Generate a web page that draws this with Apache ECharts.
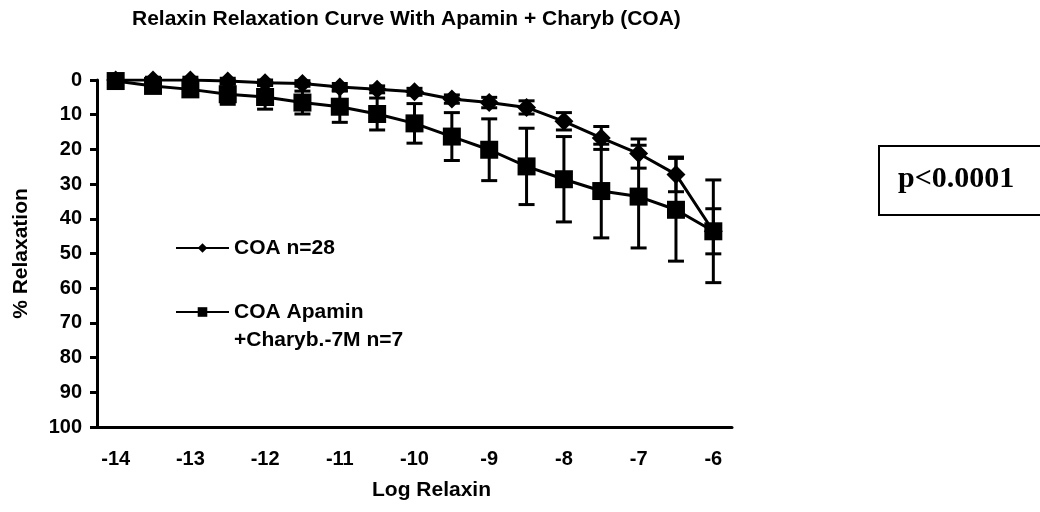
<!DOCTYPE html>
<html>
<head>
<meta charset="utf-8">
<script src="https://cdn.jsdelivr.net/npm/echarts@6/dist/echarts.min.js"></script>
<style>
html,body{margin:0;padding:0;background:#fff;}
#chart{width:1040px;height:512px;}
</style>
</head>
<body>
<div id="chart"></div>
<script>
// Data
var logRelaxin = ['-14','-13.5','-13','-12.5','-12','-11.5','-11','-10.5','-10','-9.5','-9','-8.5','-8','-7.5','-7','-6.5','-6'];
var coaMean = [0, 0, 0, 0.3, 0.8, 1, 2, 2.7, 3.4, 5.5, 6.5, 7.9, 11.9, 16.7, 21.2, 27.2, 43.6];
var coaSem = [0.8, 0.8, 0.8, 0.8, 0.8, 0.8, 1, 1, 1, 1.2, 1.5, 1.9, 2.5, 3.3, 4.2, 5, 6.5];
var apaMean = [0.3, 1.7, 2.7, 4.1, 4.9, 6.5, 7.7, 9.8, 12.5, 16.3, 20.1, 24.9, 28.6, 32, 33.6, 37.4, 43.6];
var apaSem = [0.8, 1, 1.5, 2.9, 3.5, 3.3, 4.5, 4.6, 5.7, 6.9, 8.9, 11, 12.3, 13.5, 14.8, 14.8, 14.8];
var yTicks = [0, 100, 10];
var seriesNames = ['COA n=28', 'COA Apamin +Charyb.-7M n=7'];

function errData(mean, sem) {
  return mean.map(function (m, i) { return [i, m - sem[i], m + sem[i]]; });
}
function errRender(params, api) {
  var i = api.value(0);
  var lo = api.coord([i, api.value(1)]);
  var hi = api.coord([i, api.value(2)]);
  var cw = 8;
  var st = { stroke: '#000', lineWidth: 3 };
  return {
    type: 'group',
    children: [
      { type: 'line', shape: { x1: lo[0], y1: lo[1], x2: hi[0], y2: hi[1] }, style: st },
      { type: 'line', shape: { x1: lo[0] - cw, y1: lo[1], x2: lo[0] + cw, y2: lo[1] }, style: st },
      { type: 'line', shape: { x1: hi[0] - cw, y1: hi[1], x2: hi[0] + cw, y2: hi[1] }, style: st }
    ]
  };
}

var font = 'Liberation Sans, Arial, sans-serif';
var chart = echarts.init(document.getElementById('chart'), null, { renderer: 'canvas' });
chart.setOption({
  animation: false,
  backgroundColor: '#fff',
  title: {
    text: 'Relaxin Relaxation Curve With Apamin + Charyb (COA)',
    left: 132, top: 9, padding: 0,
    textStyle: { fontFamily: font, fontWeight: 'bold', fontSize: 21, color: '#000' }
  },
  legend: {
    orient: 'vertical', left: 175, top: 234, padding: 0,
    itemWidth: 53, itemHeight: 12, itemGap: 8,
    data: seriesNames,
    formatter: function (name) {
      if (name === seriesNames[1]) return '\nCOA Apamin\n+Charyb.-7M n=7';
      return name;
    },
    textStyle: { fontFamily: font, fontWeight: 'bold', fontSize: 21, color: '#000', lineHeight: 28 }
  },
  grid: { left: 97, right: 308, top: 80, bottom: 85, containLabel: false },
  xAxis: {
    type: 'category', data: logRelaxin, boundaryGap: true, position: 'bottom',
    name: 'Log Relaxin', nameLocation: 'middle', nameGap: 53,
    nameTextStyle: { fontFamily: font, fontWeight: 'bold', fontSize: 21, color: '#000', padding: [0, 0, 0, 34] },
    axisLine: { onZero: false, lineStyle: { color: '#000', width: 3 } },
    axisTick: { inside: true, length: 7, interval: 0, lineStyle: { color: '#000', width: 3 } },
    axisLabel: { interval: 1, margin: 22, fontFamily: font, fontWeight: 'bold', fontSize: 20, color: '#000' },
    splitLine: { show: false }
  },
  yAxis: {
    type: 'value', inverse: true, min: yTicks[0], max: yTicks[1], interval: yTicks[2],
    name: '% Relaxation', nameLocation: 'middle', nameGap: 65, nameRotate: 90,
    nameTextStyle: { fontFamily: font, fontWeight: 'bold', fontSize: 21, color: '#000' },
    axisLine: { show: true, onZero: false, lineStyle: { color: '#000', width: 3 } },
    axisTick: { show: true, length: 7, lineStyle: { color: '#000', width: 3 } },
    axisLabel: { margin: 15, fontFamily: font, fontWeight: 'bold', fontSize: 20, color: '#000' },
    splitLine: { show: false }
  },
  series: [
    {
      type: 'custom', name: 'errCOA', renderItem: errRender, data: errData(coaMean, coaSem),
      encode: { x: 0, y: [1, 2] }, z: 2, silent: true
    },
    {
      type: 'custom', name: 'errApa', renderItem: errRender, data: errData(apaMean, apaSem),
      encode: { x: 0, y: [1, 2] }, z: 2, silent: true
    },
    {
      type: 'line', name: seriesNames[0], data: coaMean, symbol: 'diamond', symbolSize: 19,
      lineStyle: { color: '#000', width: 3 }, itemStyle: { color: '#000' }, z: 3
    },
    {
      type: 'line', name: seriesNames[1], data: apaMean, symbol: 'rect', symbolSize: 18,
      lineStyle: { color: '#000', width: 3 }, itemStyle: { color: '#000' }, z: 4
    }
  ],
  graphic: [
    {
      type: 'rect', left: 878, top: 145,
      shape: { width: 180, height: 69 },
      style: { fill: '#fff', stroke: '#000', lineWidth: 2 }
    },
    {
      type: 'text', left: 898, top: 164,
      style: { text: 'p<0.0001', fontFamily: 'Liberation Serif, Times New Roman, serif', fontWeight: 'bold', fontSize: 30, fill: '#000' }
    }
  ]
});
</script>
</body>
</html>
